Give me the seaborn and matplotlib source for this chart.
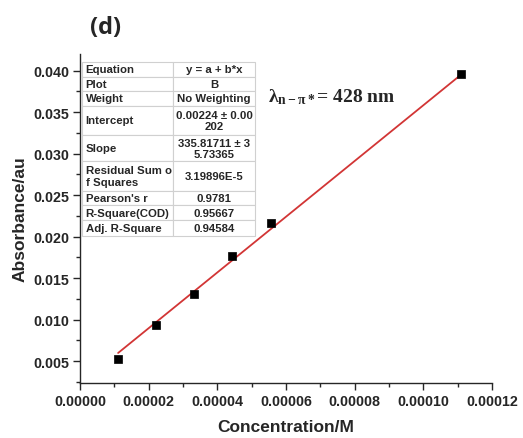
import numpy as np
import pandas as pd
import matplotlib
matplotlib.use("Agg")
import matplotlib.pyplot as plt
import seaborn as sns

# ---- data ----
conc = [0.0000111, 0.0000222, 0.0000333, 0.0000444, 0.0000555, 0.000111]
absorb = [0.0053, 0.0094, 0.0131, 0.0177, 0.0216, 0.0396]
intercept = 0.00224
slope = 335.81711
table_labels = ["Equation", "Plot", "Weight", "Intercept", "Slope",
                "Residual Sum o\nf Squares", "Pearson's r", "R-Square(COD)", "Adj. R-Square"]
table_values = ["y = a + b*x", "B", "No Weighting", "0.00224 ± 0.00\n202",
                "335.81711 ± 3\n5.73365", "3.19896E-5", "0.9781", "0.95667", "0.94584"]
xticks = [0.0, 0.00002, 0.00004, 0.00006, 0.00008, 0.00010, 0.00012]
yticks = [0.005, 0.010, 0.015, 0.020, 0.025, 0.030, 0.035, 0.040]

sns.set_style("ticks")
plt.rcParams["font.family"] = ["Liberation Sans", "DejaVu Sans"]
plt.rcParams["mathtext.fontset"] = "custom"
plt.rcParams["mathtext.rm"] = "Liberation Serif:bold"
plt.rcParams["mathtext.it"] = "Liberation Serif:bold"
plt.rcParams["mathtext.bf"] = "Liberation Serif:bold"

df = pd.DataFrame({"Concentration": conc, "Absorbance": absorb})
xfit = np.array([min(conc), max(conc)])
fit = pd.DataFrame({"x": xfit, "y": intercept + slope * xfit})

fig = plt.figure(figsize=(5.23, 4.39), dpi=100)
ax = fig.add_axes([80/523, 1-384/439, 412/523, 329/439])

sns.lineplot(data=fit, x="x", y="y", ax=ax, color="#d23535", linewidth=1.3)
sns.scatterplot(data=df, x="Concentration", y="Absorbance", ax=ax, marker="s",
                color="black", s=30, edgecolor="black", linewidth=0.5, zorder=5)

ax.set_xlim(0, 0.00012)
ax.set_ylim(0.00235, 0.0420)
ax.set_xticks(xticks)
ax.set_yticks(yticks)
ax.set_xticklabels([f"{v:.5f}" for v in xticks], fontsize=10.3, fontweight="bold")
ax.set_yticklabels([f"{v:.3f}" for v in yticks], fontsize=10.3, fontweight="bold")
ax.set_xticks(np.arange(0.00001, 0.00012, 0.00002), minor=True)
ax.set_yticks(np.arange(0.0025, 0.042, 0.005), minor=True)
ax.tick_params(which="major", length=5, width=1, direction="out", pad=3)
ax.tick_params(which="minor", length=3, width=1, direction="out")
ax.set_xlabel("Concentration/M", fontsize=12.5, fontweight="bold", labelpad=8)
ax.set_ylabel("Absorbance/au", fontsize=12.5, fontweight="bold", labelpad=4)
sns.despine(ax=ax)
for s in ["left", "bottom"]:
    ax.spines[s].set_linewidth(1.0)

# table
cell_text = [[l, v] for l, v in zip(table_labels, table_values)]
tbl = ax.table(cellText=cell_text, cellLoc="center",
               bbox=[0.005, 0.447, 0.42, 0.529], colWidths=[0.526, 0.474])
tbl.auto_set_font_size(False)
units = [1, 1, 1, 2, 1.8, 2, 1, 1, 1.1]
for (r, c), cell in tbl.get_celld().items():
    cell.set_height(units[r])
    cell.set_edgecolor("#d0d0d0")
    cell.set_linewidth(0.8)
    cell.set_facecolor("white")
    t = cell.get_text()
    t.set_fontsize(8.2)
    t.set_fontweight("bold")
    t.set_linespacing(1.15)
    if c == 0:
        cell._loc = "left"
        t.set_ha("left")
        cell.PAD = 0.04
    else:
        cell._loc = "center"
tbl.set_zorder(3)

ax.text(0.456, 0.872, r"$\lambda_{\mathrm{n-\pi*}}$" + "= 428 nm", transform=ax.transAxes,
        fontsize=14, fontfamily="Liberation Serif", fontweight="bold", va="center")

fig.text(106/523, 1-28/439, "(d)", fontsize=17, fontweight="bold",
         fontfamily="Open Sans", ha="center", va="center")

fig.savefig("out.png", dpi=100)
